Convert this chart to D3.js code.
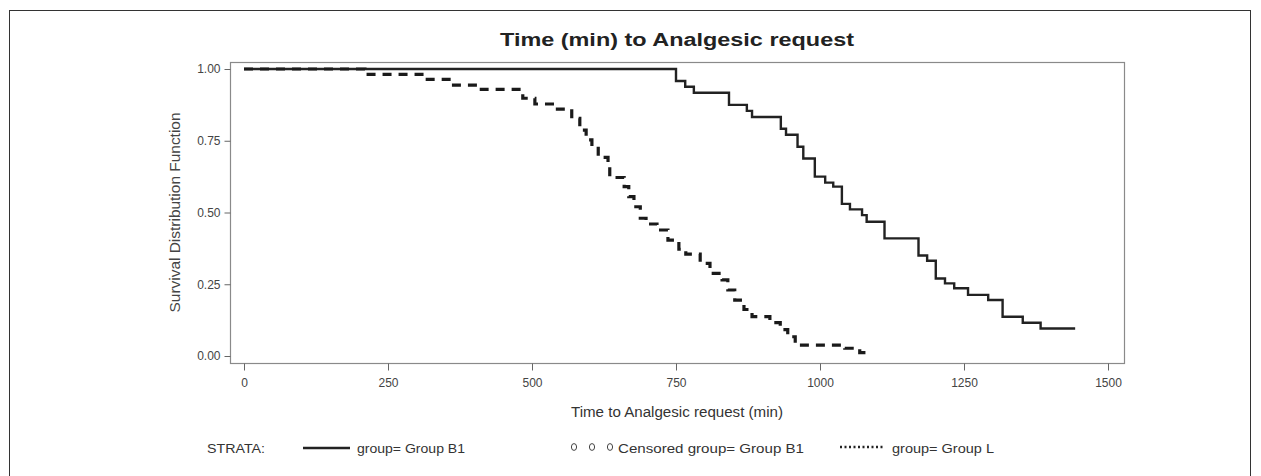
<!DOCTYPE html>
<html>
<head>
<meta charset="utf-8">
<script src="https://cdn.jsdelivr.net/npm/d3@7"></script>
<style>
  html, body { margin: 0; padding: 0; background: #fff; }
  svg { display: block; }
  text { font-family: "Liberation Sans", Arial, sans-serif; fill: #333; }
</style>
</head>
<body>
<svg id="chart" width="1261" height="476"></svg>
<script>
// ---- Data ----
const chartTitle = "Time (min) to Analgesic request";
const xLabel = "Time to Analgesic request (min)";
const yLabel = "Survival Distribution Function";
const xTicks = [0, 250, 500, 750, 1000, 1250, 1500];
const yTicks = [0, 0.25, 0.5, 0.75, 1.0];

// Group B1 (solid) step times and survival after each step
const b1Times = [0, 750, 766, 781, 842, 873, 882, 932, 941, 961, 971, 991, 1009, 1023, 1038, 1052, 1073, 1081, 1112, 1171, 1186, 1201, 1217, 1233, 1257, 1292, 1317, 1352, 1383, 1443];
const b1Surv  = [1.0, 0.958, 0.938, 0.917, 0.875, 0.854, 0.833, 0.792, 0.771, 0.729, 0.688, 0.625, 0.604, 0.590, 0.530, 0.511, 0.491, 0.468, 0.410, 0.350, 0.332, 0.270, 0.253, 0.236, 0.213, 0.195, 0.137, 0.116, 0.096, 0.096];

// Group L (dashed) step times and survival after each step
const lTimes = [0, 210, 312, 359, 412, 484, 505, 540, 569, 583, 594, 604, 615, 632, 635, 660, 668, 677, 688, 698, 717, 736, 755, 767, 792, 809, 830, 840, 852, 868, 882, 913, 931, 944, 957, 1043, 1069, 1082];
const lSurv  = [1.0, 0.981, 0.964, 0.944, 0.929, 0.898, 0.878, 0.860, 0.828, 0.787, 0.753, 0.731, 0.692, 0.660, 0.622, 0.590, 0.555, 0.520, 0.480, 0.460, 0.439, 0.404, 0.372, 0.355, 0.323, 0.288, 0.265, 0.230, 0.195, 0.162, 0.137, 0.116, 0.092, 0.067, 0.038, 0.027, 0.012, 0.012];

const legendItems = ["group= Group B1", "Censored group= Group B1", "group= Group L"];

// ---- Layout ----
const svg = d3.select("#chart");
const frame = { left: 230, top: 62, right: 1124, bottom: 363 };

const x = d3.scaleLinear().domain([0, 1500]).range([244, 1108]);
const y = d3.scaleLinear().domain([0, 1]).range([356, 69]);

// Outer border
svg.append("rect")
  .attr("x", 9.5).attr("y", 10.5)
  .attr("width", 1241).attr("height", 480)
  .attr("fill", "none").attr("stroke", "#333").attr("stroke-width", 1);

// Title
svg.append("text")
  .attr("x", 677).attr("y", 46)
  .attr("text-anchor", "middle")
  .attr("textLength", 354).attr("lengthAdjust", "spacingAndGlyphs")
  .style("font-weight", "bold").style("font-size", "18px")
  .style("fill", "#222")
  .text(chartTitle);

// Plot frame
svg.append("rect")
  .attr("x", frame.left + 0.5).attr("y", frame.top + 0.5)
  .attr("width", frame.right - frame.left).attr("height", frame.bottom - frame.top)
  .attr("fill", "none").attr("stroke", "#8a8a8a").attr("stroke-width", 1.2);

// Axes
const xAxis = svg.append("g")
  .attr("transform", `translate(0,${frame.bottom + 0.5})`)
  .call(d3.axisBottom(x).tickValues(xTicks).tickSize(7).tickPadding(8).tickFormat(d3.format("d")));
const yAxis = svg.append("g")
  .attr("transform", `translate(${frame.left + 0.5},0)`)
  .call(d3.axisLeft(y).tickValues(yTicks).tickSize(6).tickPadding(4).tickFormat(d3.format(".2f")));
[xAxis, yAxis].forEach(g => {
  g.select(".domain").remove();
  g.selectAll(".tick line").attr("stroke", "#666");
  g.selectAll(".tick text").style("font-size", "12px").style("fill", "#444")
    .style("font-family", "'Liberation Sans', Arial, sans-serif");
});

// Axis labels
svg.append("text")
  .attr("x", 677).attr("y", 417)
  .attr("text-anchor", "middle")
  .attr("textLength", 212).attr("lengthAdjust", "spacingAndGlyphs")
  .style("font-size", "14px").style("fill", "#333")
  .text(xLabel);
svg.append("text")
  .attr("transform", `translate(180,${(frame.top + frame.bottom) / 2}) rotate(-90)`)
  .attr("text-anchor", "middle")
  .attr("textLength", 200).attr("lengthAdjust", "spacingAndGlyphs")
  .style("font-size", "14px").style("fill", "#444")
  .text(yLabel);

// Survival curves
const line = d3.line().curve(d3.curveStepAfter).x(d => x(d[0])).y(d => y(d[1]));
const b1Data = b1Times.map((t, i) => [t, b1Surv[i]]);
const lData = lTimes.map((t, i) => [t, lSurv[i]]);

svg.append("path")
  .datum(b1Data)
  .attr("d", line)
  .attr("fill", "none").attr("stroke", "#222").attr("stroke-width", 2.4);

svg.append("path")
  .datum(lData)
  .attr("d", line)
  .attr("fill", "none").attr("stroke", "#1a1a1a").attr("stroke-width", 3.2)
  .attr("stroke-dasharray", "9,7");

// Legend
const ly = 448;
const legendText = (xPos, str, len) => svg.append("text")
  .attr("x", xPos).attr("y", ly + 5)
  .attr("textLength", len).attr("lengthAdjust", "spacingAndGlyphs")
  .style("font-size", "13px").style("fill", "#333").text(str);

legendText(207, "STRATA:", 58);
svg.append("line").attr("x1", 303).attr("x2", 350).attr("y1", ly).attr("y2", ly)
  .attr("stroke", "#222").attr("stroke-width", 2.6);
legendText(357, legendItems[0], 108);
[574, 592, 610].forEach(cx => {
  svg.append("ellipse").attr("cx", cx).attr("cy", ly - 1).attr("rx", 2.6).attr("ry", 3.4)
    .attr("fill", "none").attr("stroke", "#444").attr("stroke-width", 1);
});
legendText(618, legendItems[1], 186);
svg.append("line").attr("x1", 840).attr("x2", 884).attr("y1", ly - 1).attr("y2", ly - 1)
  .attr("stroke", "#222").attr("stroke-width", 2.4).attr("stroke-dasharray", "2,2.5");
legendText(892, legendItems[2], 102);
</script>
</body>
</html>
